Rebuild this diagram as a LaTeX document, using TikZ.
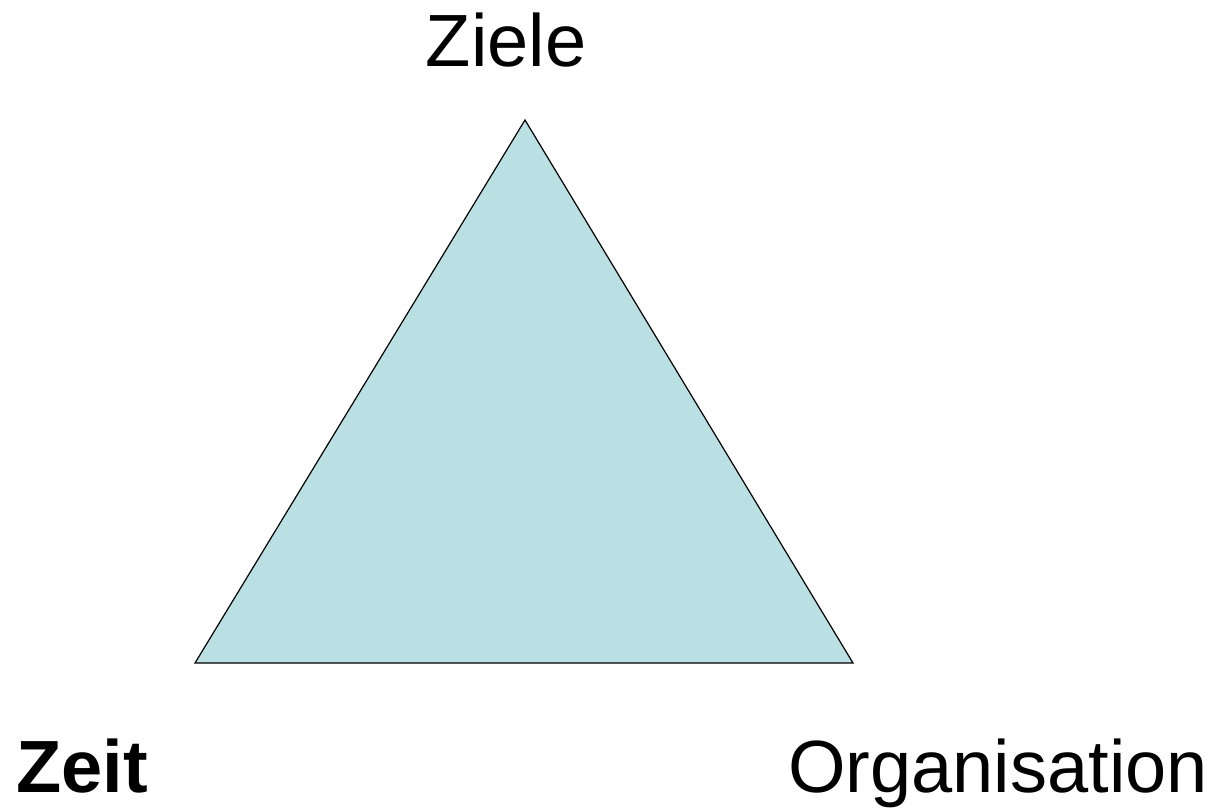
\documentclass[tikz,border=0pt]{standalone}
\usepackage{fontspec}
\setmainfont{Liberation Sans}
\definecolor{trifill}{HTML}{BBE0E3}
\begin{document}
\begin{tikzpicture}[x=1pt,y=-1pt,
  lbl/.style={inner sep=0pt,font=\fontsize{74}{82}\selectfont},
  tri/.style={draw=black,fill=trifill,line width=1.2pt,line join=miter}]
\useasboundingbox (0,0) rectangle (1215,809);
\coordinate (top) at (525,120);
\coordinate (bl) at (195,663);
\coordinate (br) at (853,663);
\filldraw[tri] (top) -- (bl) -- (br) -- cycle;
\node[lbl,anchor=base] (ziele) at (506,66) {Ziele};
\node[lbl,anchor=base west,font=\fontsize{74}{82}\selectfont\bfseries] (zeit) at (16,792) {Zeit};
\node[lbl,anchor=base west] (org) at (788,792) {Organisation};
\end{tikzpicture}
\end{document}
